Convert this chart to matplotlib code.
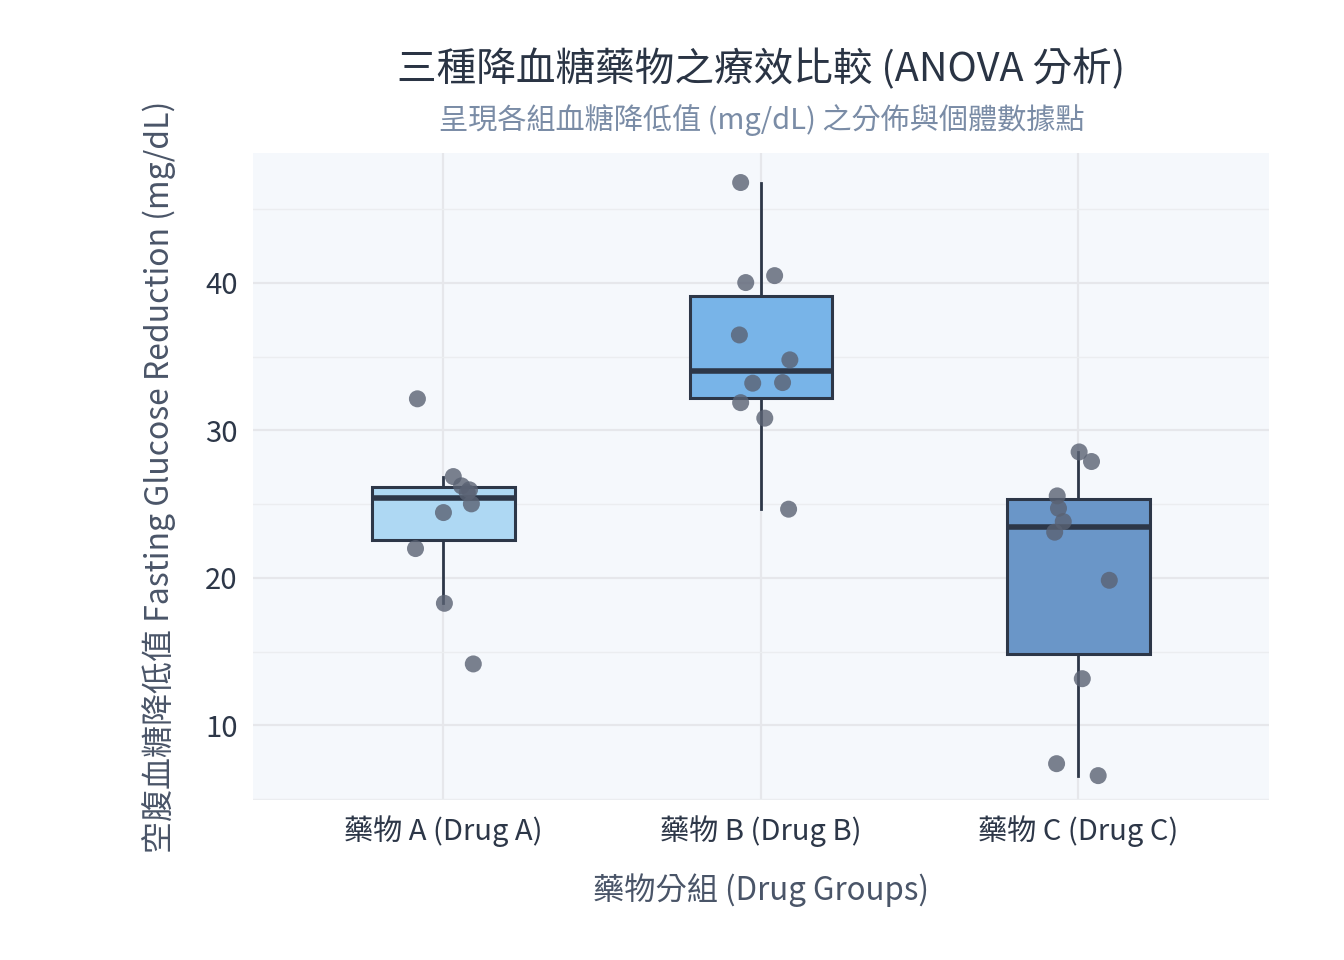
import matplotlib.pyplot as plt
import numpy as np

plt.rcParams['font.family'] = ['Noto Sans CJK TC', 'DejaVu Sans']

# data
groups = ['藥物 A (Drug A)', '藥物 B (Drug B)', '藥物 C (Drug C)']
drug_a = [32.14, 26.87, 26.24, 25.97, 25.78, 25.02, 24.43, 21.99, 18.28, 14.17]
drug_b = [46.80, 40.49, 40.02, 36.47, 34.78, 33.20, 33.24, 31.88, 30.83, 24.66]
drug_c = [28.54, 27.89, 25.56, 24.72, 23.82, 23.10, 19.84, 13.17, 7.41, 6.60]
# horizontal jitter of each point (category units)
jitter_a = [-0.082, 0.031, 0.057, 0.082, 0.075, 0.088, 0.000, -0.088, 0.003, 0.094]
jitter_b = [-0.064, 0.043, -0.048, -0.068, 0.091, -0.026, 0.068, -0.064, 0.012, 0.087]
jitter_c = [0.002, 0.041, -0.067, -0.063, -0.048, -0.075, 0.097, 0.012, -0.069, 0.062]

box_colors = ['#aed8f3', '#78b4e8', '#6a96c8']
edge = '#2d3748'

fig = plt.figure(figsize=(13.44, 9.6), dpi=100)
ax = fig.add_axes([0.1882, 0.1667, 0.756, 0.6739])
ax.set_facecolor('#f5f8fc')

data = [drug_a, drug_b, drug_c]
jit = [jitter_a, jitter_b, jitter_c]
pos = np.arange(len(groups))

bp = ax.boxplot(data, positions=pos, widths=0.45, whis=1.5, patch_artist=True,
                showfliers=False, showcaps=False, zorder=3,
                boxprops=dict(edgecolor=edge, linewidth=2.2),
                whiskerprops=dict(color=edge, linewidth=2.0),
                medianprops=dict(color=edge, linewidth=4.0))
for patch, c in zip(bp['boxes'], box_colors):
    patch.set_facecolor(c)

for i, (vals, j) in enumerate(zip(data, jit)):
    ax.scatter(i + np.array(j), vals, s=150, color='#5a6273', alpha=0.8,
               edgecolors='none', zorder=4)

ax.set_xlim(-0.6, 2.6)
ax.set_ylim(4.95, 48.8)
ax.set_yticks([10, 20, 30, 40])
ax.set_yticks([5, 15, 25, 35, 45], minor=True)
ax.set_xticks(pos)
ax.set_xticklabels(groups)
ax.grid(True, which='major', color='#e6e7eb', linewidth=1.6, zorder=0)
ax.grid(True, which='minor', axis='y', color='#ebedf0', linewidth=1.0, zorder=0)
ax.set_axisbelow(True)
for s in ax.spines.values():
    s.set_visible(False)
ax.tick_params(axis='both', which='both', length=0, labelsize=21, colors='#2d3748')
ax.tick_params(axis='y', pad=11)
ax.tick_params(axis='x', pad=11)

ax.set_xlabel('藥物分組 (Drug Groups)', fontsize=22.5, color='#4a5568')
ax.xaxis.set_label_coords(0.5, -0.113)
ax.set_ylabel('空腹血糖降低值 Fasting Glucose Reduction (mg/dL)', fontsize=23, color='#4a5568')
ax.yaxis.set_label_coords(-0.0758, 0.5)

fig.text(0.5666, 0.928, '三種降血糖藥物之療效比較 (ANOVA 分析)', ha='center', va='center',
         fontsize=28.5, color='#2a3444')
fig.text(0.5666, 0.875, '呈現各組血糖降低值 (mg/dL) 之分佈與個體數據點', ha='center', va='center',
         fontsize=21, color='#7a8ca6')

fig.savefig('out.png', dpi=100, facecolor='white')
